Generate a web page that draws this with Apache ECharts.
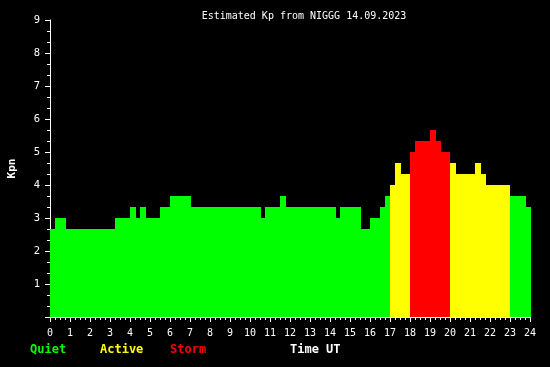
<!DOCTYPE html>
<html>
<head>
<meta charset="utf-8">
<script src="https://cdn.jsdelivr.net/npm/echarts@6/dist/echarts.min.js"></script>
<style>html,body{margin:0;padding:0;background:#000;}#c{width:550px;height:367px;}</style>
</head>
<body>
<div id="c"></div>
<script>
// Segment start times (hours UT) and Kp values (thirds)
var startTimes = [0, 0.25, 0.8, 3.25, 4.0, 4.3, 4.5, 4.8, 5.5, 6.0, 7.05, 10.55, 10.75, 11.5, 11.8, 14.3, 14.5, 15.55, 16.0, 16.5, 16.75, 17.0, 17.25, 17.55, 18.0, 18.25, 19.0, 19.3, 19.55, 20.0, 20.3, 21.25, 21.55, 21.8, 23.0, 23.8];
var kpValues = [2.667, 3.0, 2.667, 3.0, 3.333, 3.0, 3.333, 3.0, 3.333, 3.667, 3.333, 3.0, 3.333, 3.667, 3.333, 3.0, 3.333, 2.667, 3.0, 3.333, 3.667, 4.0, 4.667, 4.333, 5.0, 5.333, 5.667, 5.333, 5.0, 4.667, 4.333, 4.667, 4.333, 4.0, 3.667, 3.333];
var dayEnd = 24.05;
var xTickLabels = ['0','1','2','3','4','5','6','7','8','9','10','11','12','13','14','15','16','17','18','19','20','21','22','23','24'];
var yTickLabels = ['', '1','2','3','4','5','6','7','8','9'];
var legendItems = ['Quiet', 'Active', 'Storm'];
var legendColors = ['#00ff00', '#ffff00', '#ff0000'];
var titleText = 'Estimated Kp from NIGGG 14.09.2023';

var segData = startTimes.map(function (s, i) {
  var e = i < startTimes.length - 1 ? startTimes[i + 1] : dayEnd;
  return [s, e, kpValues[i]];
});

function colorFor(v) {
  if (v >= 4.99) return legendColors[2];
  if (v >= 3.99) return legendColors[1];
  return legendColors[0];
}

var mono = '"DejaVu Sans Mono", "Liberation Mono", monospace';
var chart = echarts.init(document.getElementById('c'), null, {renderer: 'canvas'});
chart.setOption({
  backgroundColor: '#000000',
  animation: false,
  title: {
    text: titleText, left: 299, top: 6, textAlign: 'center',
    textStyle: {color: '#ffffff', fontSize: 10, fontWeight: 'normal', fontFamily: mono}
  },
  grid: {left: 50, right: 20, top: 20, bottom: 50, containLabel: false, outerBoundsMode: 'none'},
  xAxis: {
    type: 'value', min: 0, max: 24, interval: 1,
    axisLine: {show: true, lineStyle: {color: '#ffffff', width: 1}},
    axisTick: {show: true, length: 5, lineStyle: {color: '#ffffff'}},
    minorTick: {show: true, splitNumber: 4, length: 3, lineStyle: {color: '#ffffff'}},
    splitLine: {show: false},
    axisLabel: {
      color: '#ffffff', fontSize: 10, fontFamily: mono, margin: 11,
      formatter: function (v) { return xTickLabels[Math.round(v)]; }
    }
  },
  yAxis: {
    type: 'value', min: 0, max: 9, interval: 1,
    name: 'Kpn', nameLocation: 'middle', nameGap: 32, nameRotate: 90,
    nameTextStyle: {color: '#ffffff', fontSize: 11, fontWeight: 'bold', fontFamily: mono},
    axisLine: {show: true, lineStyle: {color: '#ffffff', width: 1}},
    axisTick: {show: true, length: 5, lineStyle: {color: '#ffffff'}},
    minorTick: {show: true, splitNumber: 3, length: 3, lineStyle: {color: '#ffffff'}},
    splitLine: {show: false},
    axisLabel: {
      color: '#ffffff', fontSize: 10.5, fontFamily: mono, margin: 10,
      formatter: function (v) { return yTickLabels[Math.round(v)]; }
    }
  },
  series: [{
    type: 'custom',
    data: segData,
    encode: {x: [0, 1], y: 2},
    z: 1,
    renderItem: function (params, api) {
      var p0 = api.coord([api.value(0), api.value(2)]);
      var p1 = api.coord([api.value(1), 0]);
      var x0 = Math.round(p0[0]), x1 = Math.round(p1[0]);
      var y0 = Math.round(p0[1]), y1 = Math.round(p1[1]);
      return {
        type: 'rect',
        shape: {x: x0, y: y0, width: x1 - x0, height: y1 - y0},
        style: {fill: colorFor(api.value(2)), stroke: null},
        z2: 0
      };
    }
  }],
  graphic: [
    {type: 'text', left: 30, top: 344, style: {text: legendItems[0], fill: legendColors[0], font: 'bold 12px ' + mono}},
    {type: 'text', left: 100, top: 344, style: {text: legendItems[1], fill: legendColors[1], font: 'bold 12px ' + mono}},
    {type: 'text', left: 170, top: 344, style: {text: legendItems[2], fill: legendColors[2], font: 'bold 12px ' + mono}},
    {type: 'text', left: 290, top: 344, style: {text: 'Time UT', fill: '#ffffff', font: 'bold 12px ' + mono}}
  ]
});
</script>
</body>
</html>
